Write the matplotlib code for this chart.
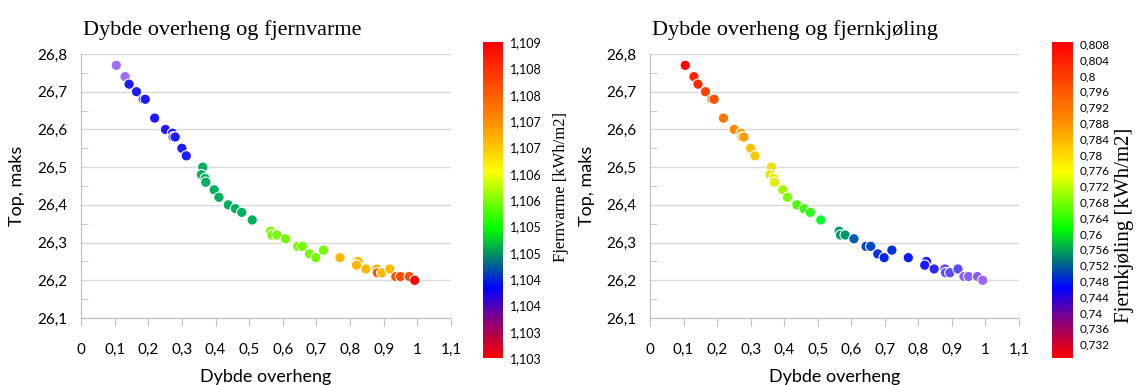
import numpy as np
import matplotlib
matplotlib.use("Agg")
import matplotlib.pyplot as plt
from matplotlib.colors import LinearSegmentedColormap, Normalize
from matplotlib.cm import ScalarMappable
from matplotlib.ticker import FuncFormatter, MultipleLocator

# data (same points in both panels)
dybde = [0.105, 0.131, 0.143, 0.165, 0.185, 0.191, 0.219, 0.251, 0.272, 0.274,
         0.280, 0.300, 0.313, 0.362, 0.358, 0.369, 0.371, 0.396, 0.410, 0.438,
         0.459, 0.478, 0.509, 0.564, 0.568, 0.582, 0.608, 0.644, 0.658, 0.679,
         0.698, 0.721, 0.770, 0.824, 0.819, 0.847, 0.879, 0.881, 0.894, 0.918,
         0.936, 0.950, 0.976, 0.992]
top_maks = [26.77, 26.74, 26.72, 26.70, 26.68, 26.68, 26.63, 26.60, 26.59, 26.58,
            26.58, 26.55, 26.53, 26.50, 26.48, 26.47, 26.46, 26.44, 26.42, 26.40,
            26.39, 26.38, 26.36, 26.33, 26.32, 26.32, 26.31, 26.29, 26.29, 26.27,
            26.26, 26.28, 26.26, 26.25, 26.24, 26.23, 26.23, 26.22, 26.22, 26.23,
            26.21, 26.21, 26.21, 26.20]
fjernvarme = [1.1030, 1.1030, 1.1040, 1.1040, 1.1040, 1.1040, 1.1040, 1.1040, 1.1040, 1.1040,
              1.1040, 1.1040, 1.1040, 1.1051, 1.1051, 1.1051, 1.1051, 1.1051, 1.1051, 1.1051,
              1.1051, 1.1051, 1.1051, 1.1060, 1.1060, 1.1060, 1.1060, 1.1060, 1.1060, 1.1060,
              1.1060, 1.1060, 1.1071, 1.1071, 1.1071, 1.1071, 1.1071, 1.1081, 1.1071, 1.1071,
              1.1081, 1.1081, 1.1081, 1.1088]
fjernkjoling = [0.808, 0.804, 0.803, 0.800, 0.798, 0.798, 0.794, 0.791, 0.789, 0.789,
                0.789, 0.784, 0.782, 0.779, 0.778, 0.777, 0.777, 0.773, 0.771, 0.768,
                0.767, 0.766, 0.763, 0.757, 0.757, 0.757, 0.752, 0.750, 0.750, 0.748,
                0.747, 0.748, 0.746, 0.744, 0.744, 0.743, 0.741, 0.741, 0.741, 0.741,
                0.739, 0.739, 0.739, 0.738]

varme_ticks = [1.10285 + 0.0005 * k for k in range(13)]
kjol_ticks = [0.732 + 0.004 * k for k in range(20)]

# colour scales
bar_cmap = LinearSegmentedColormap.from_list("bar", [
    (0.00, "#ff0000"), (0.06, "#c0003c"), (0.13, "#7a0090"), (0.22, "#0000ff"),
    (0.31, "#007878"), (0.41, "#00ff00"), (0.59, "#ffff00"), (0.75, "#ff8c00"),
    (1.00, "#ff0000")])
dot_cmap = LinearSegmentedColormap.from_list("dots", [
    (0.00, "#a070ff"), (0.12, "#9966ff"), (0.15, "#6050ff"), (0.20, "#1010ff"),
    (0.28, "#0050c0"), (0.35, "#009070"), (0.43, "#00ff30"), (0.50, "#50ff00"),
    (0.60, "#e0f000"), (0.70, "#ffc000"), (0.78, "#ff8c00"), (0.90, "#ff4000"),
    (1.00, "#ff0000")])

SANS = "Lato"
SERIF = "Liberation Serif"
W, H = 1141, 385

def comma(v, pos=None):
    s = f"{v:.3f}".rstrip("0").rstrip(".")
    return s.replace(".", ",")

def px_box(x0, y0, x1, y1):
    # pixel box (top-left origin) -> figure fractions
    return [x0 / W, 1 - y1 / H, (x1 - x0) / W, (y1 - y0) / H]

def draw_panel(fig, box, cbox, values, vmin, vmax, ticks, title, clabel, clabel_xy, clabel_size, ctick_size):
    ax = fig.add_axes(px_box(*box))
    norm = Normalize(vmin, vmax)
    ax.scatter(dybde, top_maks, c=dot_cmap(norm(np.array(values))), s=56,
               edgecolors="white", linewidths=0.8, zorder=3, clip_on=False)

    ax.set_xlim(0, 1.1)
    ax.set_ylim(26.1, 26.8)
    ax.xaxis.set_major_locator(MultipleLocator(0.1))
    ax.yaxis.set_major_locator(MultipleLocator(0.1))
    ax.yaxis.set_minor_locator(MultipleLocator(0.05))
    ax.xaxis.set_major_formatter(FuncFormatter(comma))
    ax.yaxis.set_major_formatter(FuncFormatter(comma))
    ax.grid(axis="y", color="#d9d9d9", linewidth=1)
    ax.set_axisbelow(True)
    for side in ["top", "right"]:
        ax.spines[side].set_visible(False)
    for side in ["left", "bottom"]:
        ax.spines[side].set_color("#bfbfbf")
    ax.tick_params(axis="x", direction="out", length=6, color="#bfbfbf", pad=12,
                   labelsize=11, labelfontfamily=SANS)
    ax.tick_params(axis="y", which="major", length=0, pad=10,
                   labelsize=11, labelfontfamily=SANS)
    ax.tick_params(axis="y", which="minor", direction="in", length=5, color="#bfbfbf")

    ax.set_xlabel("Dybde overheng", fontsize=13, family=SANS)
    ax.xaxis.set_label_coords(0.5, -0.195)
    ax.set_ylabel("Top, maks", fontsize=13, family=SANS)
    ax.yaxis.set_label_coords(-0.15, 0.5)
    ax.set_title(title, loc="left", fontsize=16, family=SERIF, pad=14, x=0.005)

    cax = fig.add_axes(px_box(*cbox))
    cb = fig.colorbar(ScalarMappable(norm=norm, cmap=bar_cmap), cax=cax, ticks=ticks)
    cb.outline.set_visible(False)
    cb.ax.yaxis.set_major_formatter(FuncFormatter(comma))
    cb.ax.tick_params(length=0, pad=5, labelsize=ctick_size, labelfontfamily=SANS)
    fig.text(clabel_xy[0] / W, 1 - clabel_xy[1] / H, clabel, rotation=90,
             ha="center", va="center", fontsize=clabel_size, family=SERIF)
    return ax

fig = plt.figure(figsize=(W / 100, H / 100), dpi=100)

draw_panel(fig, (81, 54, 451, 318), (483, 42, 503, 358), fjernvarme,
           1.10285, 1.10885, varme_ticks, "Dybde overheng og fjernvarme",
           "Fjernvarme [kWh/m2]", (561, 187), 12, 9)
draw_panel(fig, (650, 54, 1019, 318), (1052, 42, 1073, 358), fjernkjoling,
           0.7285, 0.8085, kjol_ticks, "Dybde overheng og fjernkjøling",
           "Fjernkjøling [kWh/m2]", (1125, 225), 15, 8.5)

fig.savefig("out.png", dpi=100)
